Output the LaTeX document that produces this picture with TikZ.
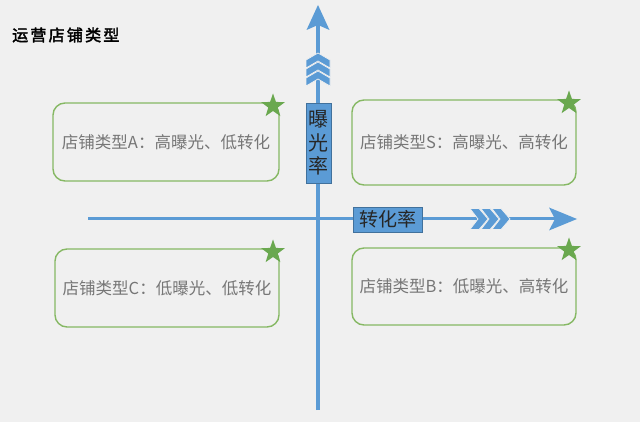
\documentclass[tikz,border=0pt]{standalone}
\usepackage{fontspec}
\newfontfamily\cjk{Noto Sans CJK SC}
\newfontfamily\cjktitle[LetterSpace=14,FakeBold=2.5]{Noto Sans CJK SC}
\usetikzlibrary{shapes.geometric}
\definecolor{bgc}{RGB}{240,240,240}
\definecolor{axisblue}{RGB}{91,155,213}
\definecolor{boxedge}{RGB}{65,113,156}
\definecolor{greenedge}{RGB}{134,184,100}
\definecolor{stargreen}{RGB}{106,168,79}
\definecolor{txtgray}{RGB}{118,118,118}
\tikzset{
  typebox/.style={draw=greenedge, line width=1.4pt, rounded corners=12pt, fill=bgc,
    font=\cjk\fontsize{16.5}{19}\selectfont, text=txtgray, inner sep=0pt},
  greenstar/.style={star, star points=5, star point ratio=2.5, fill=stargreen,
    minimum size=25pt, inner sep=0pt},
  axislabel/.style={fill=axisblue, draw=boxedge, line width=0.8pt, inner sep=0pt,
    text=black!85},
  axisline/.style={draw=axisblue},
  chev/.style={fill=axisblue, draw=bgc, line width=0.7pt, line join=miter},
}
\begin{document}
\begin{tikzpicture}[x=1pt,y=-1pt]
\fill[bgc] (0,0) rectangle (640,422);
\useasboundingbox (0,0) rectangle (640,422);

% title
\node[anchor=west, font=\cjktitle\fontsize{16}{18}\selectfont, text=black, inner sep=0pt] (title) at (12,35) {运营店铺类型};

% axes
\coordinate (vb) at (318,410);
\coordinate (vt) at (318,24);
\coordinate (hl) at (88,219);
\coordinate (hr) at (556,219);
\draw[axisline, line width=3.6pt] (vb) -- (vt);
\draw[axisline, line width=3pt] (hl) -- (hr);

% arrow heads
\fill[axisblue] (318,5) -- (329.5,30) -- (318,25) -- (306.5,30) -- cycle;
\fill[axisblue] (577,219) -- (549,207.5) -- (555,219) -- (549,230.5) -- cycle;

% vertical chevrons
\foreach \y in {53,62,71}{
  \filldraw[chev] (306,\y+7) -- (318,\y) -- (330,\y+7) -- (330,\y+15) -- (318,\y+8) -- (306,\y+15) -- cycle;
}
% horizontal chevrons
\foreach \x in {470,481,492}{
  \filldraw[chev] (\x,208.5) -- (\x+9,208.5) -- (\x+18,219) -- (\x+9,229.5) -- (\x,229.5) -- (\x+8,219) -- cycle;
}

% axis labels
\node[axislabel, minimum width=25pt, minimum height=80pt, align=center,
  font=\cjk\fontsize{20}{23.5}\selectfont] (vlabel) at (318.5,143) {曝\\光\\率};
\node[axislabel, minimum width=69pt, minimum height=25pt,
  font=\cjk\fontsize{19}{21}\selectfont] (hlabel) at (387.5,219.5) {转化率};

% type boxes
\node[typebox, minimum width=226pt, minimum height=78pt] (boxA) at (166,142) {店铺类型A：高曝光、低转化};
\node[typebox, minimum width=224pt, minimum height=85pt] (boxS) at (464,142.5) {店铺类型S：高曝光、高转化};
\node[typebox, minimum width=224pt, minimum height=78pt] (boxC) at (167,288) {店铺类型C：低曝光、低转化};
\node[typebox, minimum width=224pt, minimum height=77pt] (boxB) at (464,286.5) {店铺类型B：低曝光、高转化};

% stars
\node[greenstar] (starA) at (273,106) {};
\node[greenstar] (starS) at (569,103) {};
\node[greenstar] (starC) at (273,252) {};
\node[greenstar] (starB) at (569,250) {};
\end{tikzpicture}
\end{document}
